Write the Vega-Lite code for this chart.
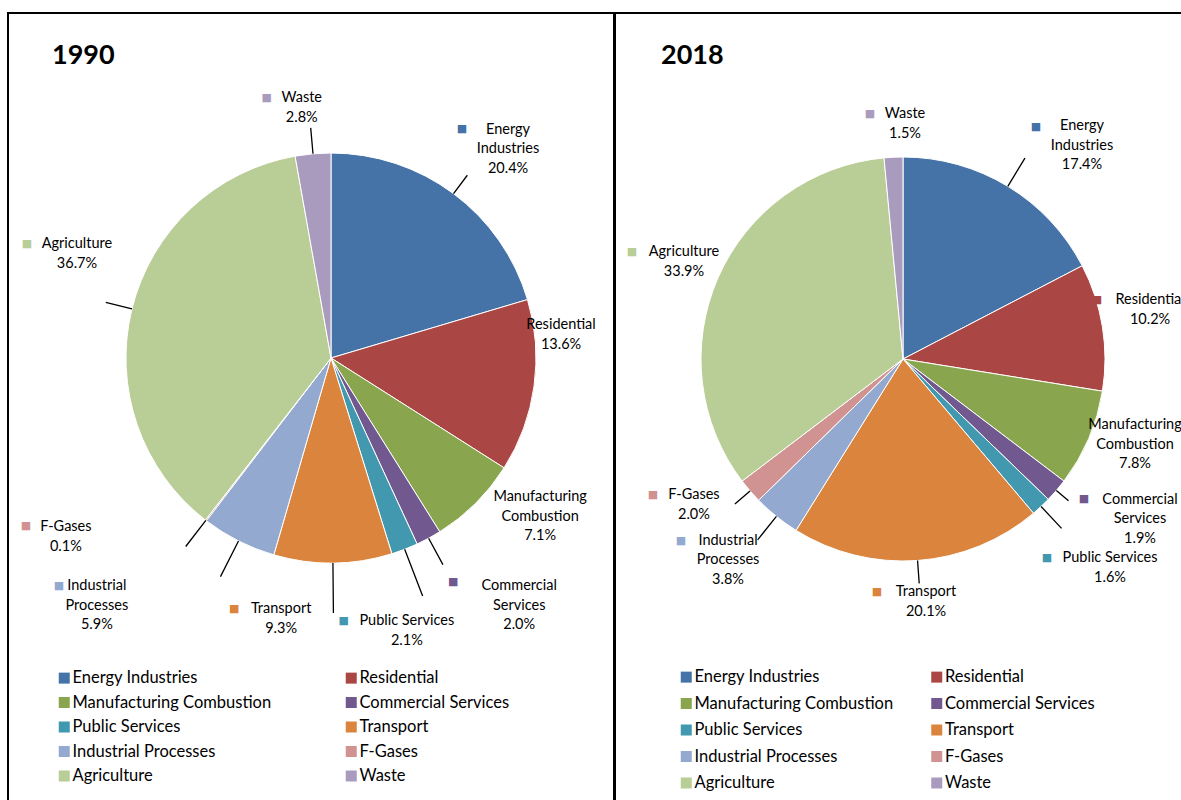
{
  "$schema": "https://vega.github.io/schema/vega-lite/v6.json",
  "padding": {"left": 7, "top": 12, "right": 0, "bottom": 0},
  "background": "white",
  "spacing": -1,
  "config": {
    "view": {"stroke": "black", "strokeWidth": 2},
    "font": "Lato"
  },
  "datasets": {
    "d1990": [
      {"sector": "Energy Industries", "pct": 20.4, "rank": 0, "label": ["Energy", "Industries", "20.4%"]},
      {"sector": "Residential", "pct": 13.6, "rank": 1, "label": ["Residential", "13.6%"]},
      {"sector": "Manufacturing Combustion", "pct": 7.1, "rank": 2, "label": ["Manufacturing", "Combustion", "7.1%"]},
      {"sector": "Commercial Services", "pct": 2.0, "rank": 3, "label": ["Commercial", "Services", "2.0%"]},
      {"sector": "Public Services", "pct": 2.1, "rank": 4, "label": ["Public Services", "2.1%"]},
      {"sector": "Transport", "pct": 9.3, "rank": 5, "label": ["Transport", "9.3%"]},
      {"sector": "Industrial Processes", "pct": 5.9, "rank": 6, "label": ["Industrial", "Processes", "5.9%"]},
      {"sector": "F-Gases", "pct": 0.1, "rank": 7, "label": ["F-Gases", "0.1%"]},
      {"sector": "Agriculture", "pct": 36.7, "rank": 8, "label": ["Agriculture", "36.7%"]},
      {"sector": "Waste", "pct": 2.8, "rank": 9, "label": ["Waste", "2.8%"]}
    ],
    "d2018": [
      {"sector": "Energy Industries", "pct": 17.4, "rank": 0, "label": ["Energy", "Industries", "17.4%"]},
      {"sector": "Residential", "pct": 10.2, "rank": 1, "label": ["Residential", "10.2%"]},
      {"sector": "Manufacturing Combustion", "pct": 7.8, "rank": 2, "label": ["Manufacturing", "Combustion", "7.8%"]},
      {"sector": "Commercial Services", "pct": 1.9, "rank": 3, "label": ["Commercial", "Services", "1.9%"]},
      {"sector": "Public Services", "pct": 1.6, "rank": 4, "label": ["Public Services", "1.6%"]},
      {"sector": "Transport", "pct": 20.1, "rank": 5, "label": ["Transport", "20.1%"]},
      {"sector": "Industrial Processes", "pct": 3.8, "rank": 6, "label": ["Industrial", "Processes", "3.8%"]},
      {"sector": "F-Gases", "pct": 2.0, "rank": 7, "label": ["F-Gases", "2.0%"]},
      {"sector": "Agriculture", "pct": 33.9, "rank": 8, "label": ["Agriculture", "33.9%"]},
      {"sector": "Waste", "pct": 1.5, "rank": 9, "label": ["Waste", "1.5%"]}
    ]
  },
  "resolve": {
    "scale": {"color": "independent", "theta": "independent"},
    "legend": {"color": "independent"}
  },
  "hconcat": [
    {
      "width": 606,
      "height": 800,
      "view": {"stroke": "black", "strokeWidth": 2},
      "data": {"name": "d1990"},
      "title": {"text": "1990", "anchor": "start", "orient": "top", "frame": "group", "offset": -78, "dx": 44, "baseline": "alphabetic", "fontSize": 27, "fontWeight": "bold", "font": "Lato", "color": "black"},
      "encoding": {
        "theta": {"field": "pct", "type": "quantitative", "stack": true},
        "order": {"field": "rank", "type": "quantitative"}
      },
      "layer": [
        {
          "mark": {"type": "arc", "x": 323, "y": 345, "radius": 205, "stroke": "white", "strokeWidth": 1},
          "encoding": {
            "color": {
              "field": "sector", "type": "nominal",
              "scale": {
                "domain": ["Energy Industries", "Manufacturing Combustion", "Public Services", "Industrial Processes", "Agriculture", "Residential", "Commercial Services", "Transport", "F-Gases", "Waste"],
                "range": ["#4572A7", "#89A54E", "#4198AF", "#93A9CF", "#B9CD96", "#AA4643", "#71588F", "#DB843D", "#D19392", "#A99BBD"]
              },
              "legend": {"orient": "none", "legendX": 48, "legendY": 656.75, "columns": 2, "columnPadding": 71, "rowPadding": 7.5, "title": null, "symbolType": "square", "symbolSize": 121, "symbolStrokeWidth": 0, "labelFontSize": 16.5, "labelFont": "Lato", "labelColor": "black", "labelOffset": 0, "labelLimit": 400, "padding": 0}
            }
          }
        },
        {
          "mark": {"type": "arc", "x": 323, "y": 345, "radius2": 205, "radius": {"expr": "[228,205,205,235,255,255,245,238,232,231][datum.rank]"}, "padAngle": 3.14159, "filled": false, "fill": null, "stroke": "black", "strokeWidth": 1.3, "strokeOpacity": {"expr": "(datum.rank == 1 || datum.rank == 2) ? 0 : 1"}},
          "encoding": {"detail": {"field": "sector", "type": "nominal"}}
        },
        {
          "mark": {"type": "text", "x": 323, "y": 345, "radius": 270, "dx": {"expr": "[15.6,-37.4,18.8,59.6,-21.2,-52.4,-112.3,-100.3,8.1,-5.5][datum.rank]"}, "dy": {"expr": "[-12,-69.85,-52.1,-9,11.35,-18.75,-12.5,-44.65,-48.85,9.25][datum.rank]"}, "fontSize": 14.5, "lineHeight": 19.5, "fill": "black", "align": "center", "baseline": "middle", "font": "Lato"},
          "encoding": {"detail": {"field": "sector", "type": "nominal"}, "text": {"field": "label", "type": "nominal"}}
        },
        {
          "mark": {"type": "text", "x": 323, "y": 345, "radius": 270, "text": "■", "font": "DejaVu Sans", "fontSize": 11, "align": "center", "baseline": "middle", "dx": {"expr": "[-30.4,0,0,-6.4,-84.2,-99.4,-150.3,-140.3,-41.9,-40.5][datum.rank]"}, "dy": {"expr": "[-12.5,0,0,-13.5,11.1,-19,-13,-45.9,-49.1,9][datum.rank]"}, "opacity": {"expr": "(datum.rank == 1 || datum.rank == 2) ? 0 : 1"}},
          "encoding": {"color": {"field": "sector", "type": "nominal"}}
        }
      ]
    },
    {
      "width": 600,
      "height": 800,
      "view": {"stroke": "black", "strokeWidth": 2},
      "data": {"name": "d2018"},
      "title": {"text": "2018", "anchor": "start", "orient": "top", "frame": "group", "offset": -78, "dx": 46, "baseline": "alphabetic", "fontSize": 27, "fontWeight": "bold", "font": "Lato", "color": "black"},
      "encoding": {
        "theta": {"field": "pct", "type": "quantitative", "stack": true},
        "order": {"field": "rank", "type": "quantitative"}
      },
      "layer": [
        {
          "mark": {"type": "arc", "x": 288, "y": 346, "radius": 202, "stroke": "white", "strokeWidth": 1},
          "encoding": {
            "color": {
              "field": "sector", "type": "nominal",
              "scale": {
                "domain": ["Energy Industries", "Manufacturing Combustion", "Public Services", "Industrial Processes", "Agriculture", "Residential", "Commercial Services", "Transport", "F-Gases", "Waste"],
                "range": ["#4572A7", "#89A54E", "#4198AF", "#93A9CF", "#B9CD96", "#AA4643", "#71588F", "#DB843D", "#D19392", "#A99BBD"]
              },
              "legend": {"orient": "none", "legendX": 63, "legendY": 655.75, "columns": 2, "columnPadding": 34.5, "rowPadding": 9.5, "title": null, "symbolType": "square", "symbolSize": 121, "symbolStrokeWidth": 0, "labelFontSize": 16.5, "labelFont": "Lato", "labelColor": "black", "labelOffset": 0, "labelLimit": 400, "padding": 0}
            }
          }
        },
        {
          "mark": {"type": "arc", "x": 288, "y": 346, "radius2": 202, "radius": {"expr": "[235,202,202,218,232,225,232,222,202,202][datum.rank]"}, "padAngle": 3.14159, "filled": false, "fill": null, "stroke": "black", "strokeWidth": 1.3, "strokeOpacity": {"expr": "(datum.rank == 1 || datum.rank == 2 || datum.rank == 8 || datum.rank == 9) ? 0 : 1"}},
          "encoding": {"detail": {"field": "sector", "type": "nominal"}}
        },
        {
          "mark": {"type": "text", "x": 288, "y": 346, "radius": 270, "dx": {"expr": "[38.9,-19.5,-16.2,32,22.5,3.6,-5.8,-4.6,28.2,14.7][datum.rank]"}, "dy": {"expr": "[-1.7,-15.75,-39.8,-35.2,2.15,-36.05,-28.9,-40.15,1.85,24.95][datum.rank]"}, "fontSize": 14.5, "lineHeight": 19.5, "fill": "black", "align": "center", "baseline": "middle", "font": "Lato"},
          "encoding": {"detail": {"field": "sector", "type": "nominal"}, "text": {"field": "label", "type": "nominal"}}
        },
        {
          "mark": {"type": "text", "x": 288, "y": 346, "radius": 270, "text": "■", "font": "DejaVu Sans", "fontSize": 11, "align": "center", "baseline": "middle", "dx": {"expr": "[-7.1,-72.5,0,-24,-40.5,-45.4,-52.8,-45.6,-23.8,-20.3][datum.rank]"}, "dy": {"expr": "[-1.2,-16,0,-35.7,1.9,-36.3,-28.4,-40.4,1.6,24.7][datum.rank]"}, "opacity": {"expr": "(datum.rank == 2) ? 0 : 1"}},
          "encoding": {"color": {"field": "sector", "type": "nominal"}}
        }
      ]
    }
  ]
}
